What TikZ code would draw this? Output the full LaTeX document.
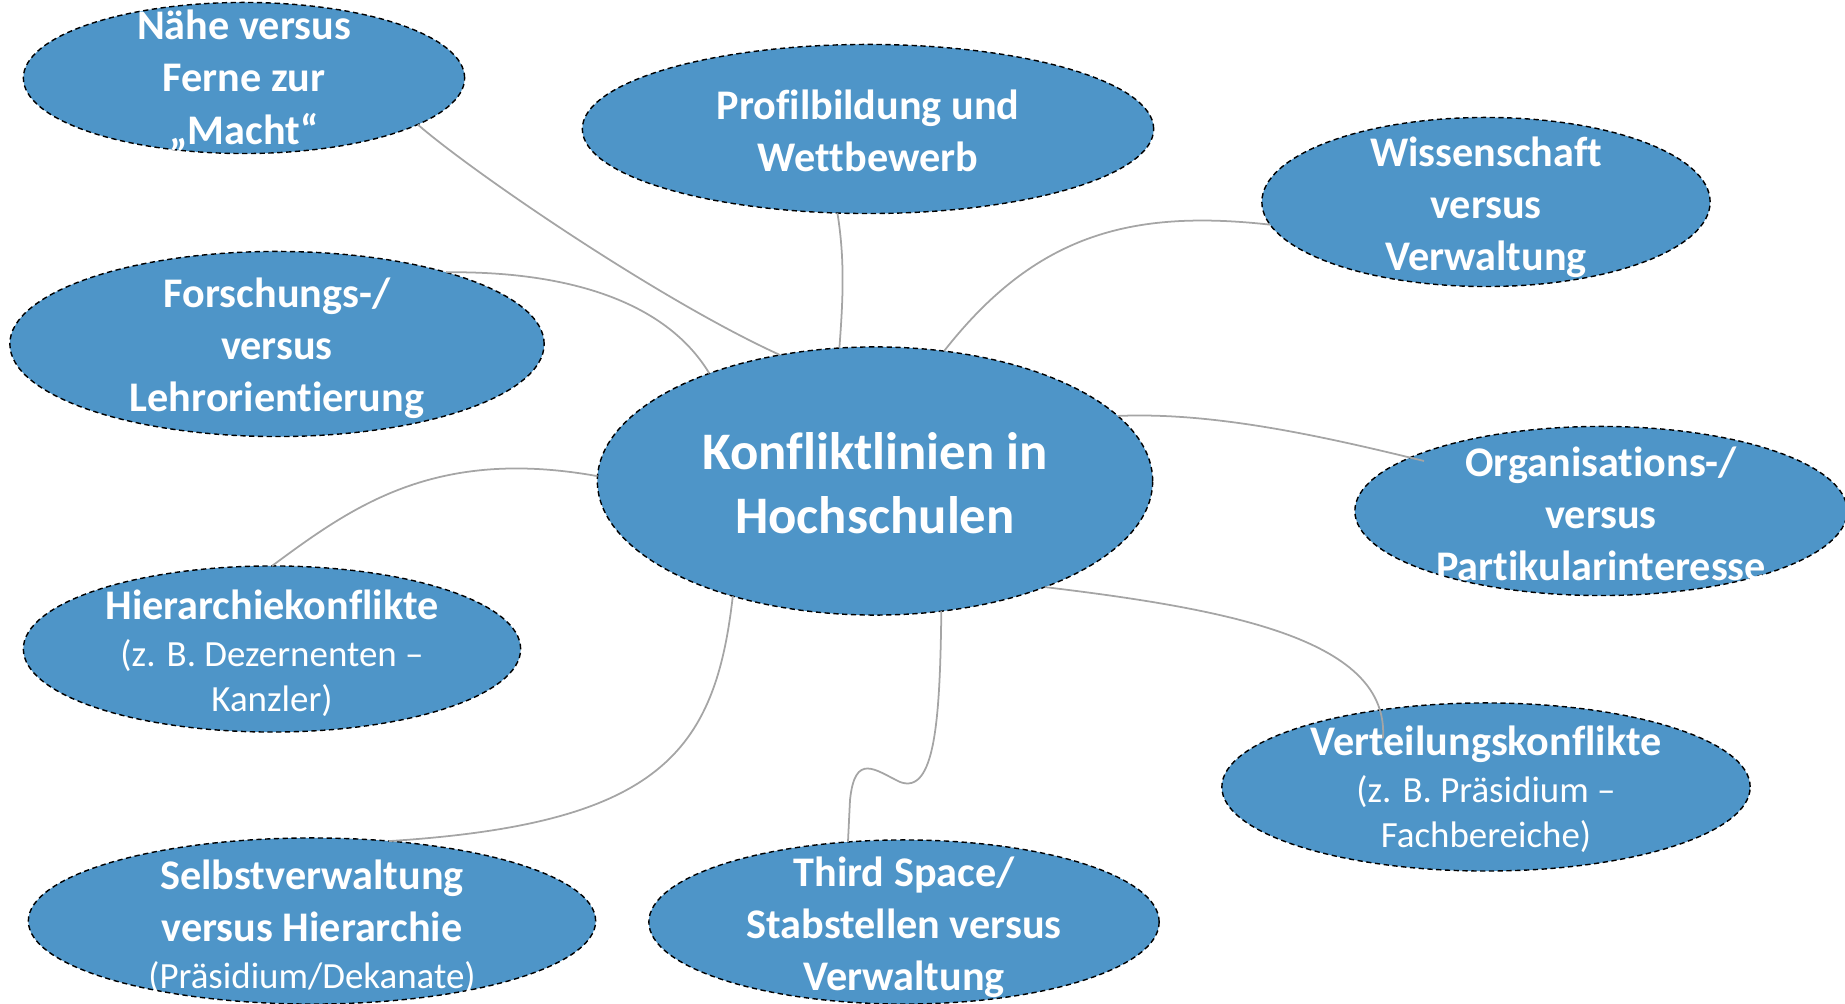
\documentclass[tikz,border=0pt]{standalone}
\usepackage{fontspec}
\setmainfont{Carlito}[Ligatures={TeX,NoCommon}]
\usetikzlibrary{shapes.geometric}
\definecolor{bubbleblue}{RGB}{78,149,200}
\definecolor{linegray}{RGB}{165,165,165}
\newcommand{\subtxt}[1]{{\mdseries\fontsize{10.5}{12.7}\selectfont #1}}
\begin{document}
\begin{tikzpicture}[x=0.01cm,y=-0.01cm,
    bubble/.style={ellipse,fill=bubbleblue,draw=black,line width=0.4pt,dash pattern=on 1.5pt off 1pt,inner sep=0pt,outer sep=0pt},
    btext/.style={text=white,align=center,yshift=-1.2pt,font=\bfseries\fontsize{12}{14.8}\selectfont},
    bigtext/.style={text=white,align=center,yshift=-0.6pt,font=\bfseries\fontsize{15}{18}\selectfont},
    link/.style={draw=linegray,line width=0.5pt}]
                \useasboundingbox (0,0) rectangle (1845,1004);
                \node[bubble,minimum width=4.41cm,minimum height=1.51cm,label={[btext,yshift=0.5pt]center:{Nähe versus\\Ferne zur\\„Macht“}}] (naehe) at (244,78) {};
                \node[bubble,minimum width=5.71cm,minimum height=1.69cm,label={[btext,yshift=0.8pt]center:{Profilbildung und\\Wettbewerb}}] (profil) at (868,129) {};
                \node[bubble,minimum width=4.48cm,minimum height=1.69cm,label={[btext,yshift=-0.4pt]center:{Wissenschaft\\versus\\Verwaltung}}] (wiss) at (1486,202) {};
                \node[bubble,minimum width=5.34cm,minimum height=1.85cm,label={[btext]center:{Forschungs-/\\versus\\Lehrorientierung}}] (forsch) at (277,344) {};
                \node[bubble,minimum width=5.55cm,minimum height=2.68cm,label={[bigtext]center:{Konfliktlinien in\\Hochschulen}}] (cen) at (875,481) {};
                \node[bubble,minimum width=4.92cm,minimum height=1.69cm,label={[btext,yshift=0.5pt]center:{Organisations-/\\versus\\Partikularinteresse}}] (org) at (1601,511) {};
                \node[bubble,minimum width=4.97cm,minimum height=1.66cm,label={[btext]center:{Hierarchiekonflikte\\[-1.4pt]\subtxt{(z. B. Dezernenten –}\\[-2.1pt]\subtxt{Kanzler)}}}] (hier) at (272,649) {};
                \node[bubble,minimum width=5.28cm,minimum height=1.68cm,label={[btext,yshift=0.6pt]center:{Verteilungskonflikte\\[-1.4pt]\subtxt{(z. B. Präsidium –}\\[-2.1pt]\subtxt{Fachbereiche)}}}] (vert) at (1486,787) {};
                \node[bubble,minimum width=5.67cm,minimum height=1.66cm,label={[btext,yshift=-0.4pt]center:{Selbstverwaltung\\versus Hierarchie\\[-1.4pt]\subtxt{(Präsidium/Dekanate)}}}] (selbst) at (312,921) {};
                \node[bubble,minimum width=5.10cm,minimum height=1.64cm,label={[btext,yshift=-0.4pt]center:{Third Space/\\Stabstellen versus\\Verwaltung}}] (third) at (904,922) {};
                \coordinate (orgend) at (1424,461);
                \coordinate (vertend) at (1383,738);
                \draw[link] (naehe.-15) .. controls (471,171) and (659,300) .. (cen.127);
                \draw[link] (profil.-110) .. controls (845,260) and (843,300) .. (cen.105);
                \draw[link] (wiss.-174) .. controls (1130,209) and (1035,235) .. (cen.62);
                \draw[link] (forsch.23) .. controls (565,271) and (665,300) .. (cen.147);
                \draw[link] (cen.15) .. controls (1212,412) and (1318,435) .. (orgend);
                \draw[link] (hier.north) .. controls (353,506) and (435,447) .. (cen.179);
                \draw[link] (cen.-32) .. controls (1236,610) and (1389,641) .. (vertend);
                \draw[link] (cen.-141) .. controls (715,753) and (659,824) .. (selbst.46);
                \draw[link] (cen.-63) .. controls (940,720) and (935,795) .. (900,782) .. controls (875,770) and (855,752) .. (850,800) -- (third.125);
            \end{tikzpicture}
\end{document}
